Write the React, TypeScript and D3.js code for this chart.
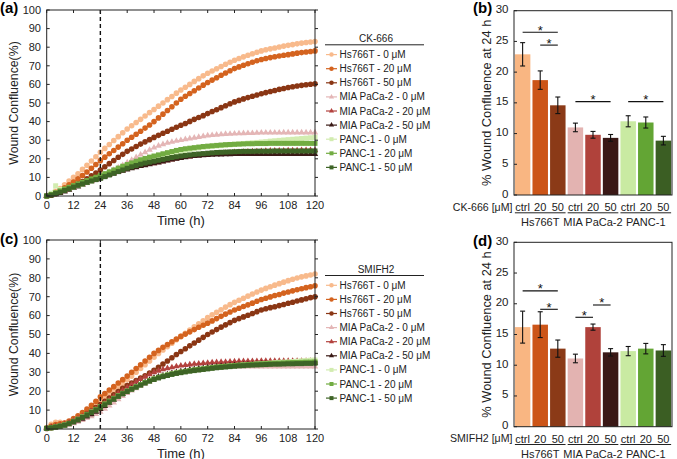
import React from 'react';
import * as d3 from 'd3';

// ---------- shared data ----------
const TIMES = d3.range(0, 121, 2);
const X_TICKS = [0, 12, 24, 36, 48, 60, 72, 84, 96, 108, 120];
const Y_TICKS_LINE = [0, 10, 20, 30, 40, 50, 60, 70, 80, 90, 100];
const SERIES_NAMES = [
  'Hs766T - 0 μM', 'Hs766T - 20 μM', 'Hs766T - 50 μM',
  'MIA PaCa-2 - 0 μM', 'MIA PaCa-2 - 20 μM', 'MIA PaCa-2 - 50 μM',
  'PANC-1 - 0 μM', 'PANC-1 - 20 μM', 'PANC-1 - 50 μM',
];
const SERIES_COLORS = ['#F8BA8C', '#D4631F', '#8A3614', '#E4B6B6', '#B3423E', '#3A1A16', '#D2ECB0', '#72AC42', '#3E6426'];
const SERIES_SHAPES = ['circle', 'circle', 'circle', 'tri', 'tri', 'tri', 'square', 'square', 'square'];

// ---------- panel (a) CK-666 ----------
const A_HS0 = [0, 0.8, 2.5, 4, 6, 8, 10, 12, 14.3, 16.5,
  18.8, 21.1, 23.5, 25.6, 27.7, 29.8, 31.9, 34, 36, 37.8,
  39.5, 41.2, 43, 44.8, 46.5, 48.3, 50, 51.8, 53.5, 55.3,
  57, 58.5, 60, 61.6, 63.1, 64.6, 66, 67.2, 68.4, 69.6,
  70.8, 71.9, 73, 73.9, 74.8, 75.7, 76.5, 77.3, 78, 78.6,
  79.1, 79.6, 80.1, 80.6, 81, 81.4, 81.8, 82.2, 82.5, 82.8,
  83];
const A_HS20 = [0, 0.6, 1.8, 3, 4.4, 6, 7.5, 9.2, 11, 12.9,
  14.9, 16.9, 19, 20.9, 22.7, 24.5, 26.3, 28.1, 30, 31.6,
  33.2, 34.8, 36.5, 38.2, 40, 42, 44, 46, 48, 50,
  52, 53.6, 55.1, 56.6, 58.1, 59.6, 61, 62.3, 63.6, 64.9,
  66.1, 67.3, 68.5, 69.4, 70.3, 71.1, 71.9, 72.7, 73.4, 73.9,
  74.4, 74.9, 75.3, 75.7, 76, 76.4, 76.8, 77.1, 77.4, 77.7,
  78];
const A_HS50 = [0, 0.4, 1.2, 2.2, 3.3, 4.1, 5, 6.4, 7.8, 9.3,
  10.8, 12.4, 14, 15.7, 17.4, 19.1, 20.8, 22.4, 24, 25.3,
  26.6, 27.9, 29.1, 30.3, 31.5, 32.6, 33.7, 34.8, 35.9, 37,
  38, 39, 40.1, 41.2, 42.2, 43.2, 44.3, 45.4, 46.4, 47.5,
  48.5, 49.6, 50.6, 51.4, 52.2, 52.9, 53.6, 54.3, 55, 55.6,
  56.2, 56.7, 57.3, 57.8, 58.3, 58.7, 59.1, 59.5, 59.8, 60.1,
  60.3];
const A_MIA0 = [0, 0.5, 1.2, 2, 2.8, 3.6, 4.5, 5.4, 6.3, 7.3,
  8.3, 9.4, 10.5, 11.6, 12.8, 14, 15.3, 16.6, 18, 19.4,
  20.8, 22.2, 23.5, 24.8, 26, 27, 27.8, 28.5, 29.1, 29.6,
  30, 30.5, 30.9, 31.3, 31.7, 32.1, 32.5, 32.7, 32.9, 33.1,
  33.3, 33.4, 33.5, 33.6, 33.7, 33.8, 33.8, 33.9, 34, 34,
  34, 34, 34, 34.1, 34.1, 34.1, 34.1, 34.1, 34.1, 34.1,
  34.1];
const A_MIA20 = [0, 0.5, 1.2, 2, 2.8, 3.7, 4.6, 5.5, 6.5, 7.4,
  8.3, 9.2, 10, 10.8, 11.6, 12.4, 13.1, 13.8, 14.5, 15.1,
  15.6, 16.1, 16.6, 17.1, 17.6, 18.1, 18.6, 19.1, 19.6, 20.1,
  20.5, 20.9, 21.2, 21.5, 21.8, 22.1, 22.3, 22.5, 22.7, 22.9,
  23.1, 23.3, 23.5, 23.6, 23.7, 23.8, 23.9, 24, 24.1, 24.2,
  24.3, 24.3, 24.4, 24.4, 24.5, 24.5, 24.5, 24.6, 24.6, 24.6,
  24.6];
const A_MIA50 = [0, 0.3, 0.9, 1.6, 2.4, 3.3, 4.2, 5.1, 6, 6.9,
  7.8, 8.7, 9.5, 10.4, 11.2, 12, 12.8, 13.5, 14.2, 14.8,
  15.4, 16, 16.5, 17, 17.5, 18, 18.5, 19, 19.5, 20,
  20.4, 20.8, 21.1, 21.4, 21.6, 21.8, 22, 22.1, 22.2, 22.3,
  22.4, 22.4, 22.5, 22.5, 22.5, 22.5, 22.5, 22.5, 22.5, 22.5,
  22.5, 22.5, 22.5, 22.5, 22.5, 22.5, 22.5, 22.5, 22.5, 22.5,
  22.5];
const A_P0 = [0, 1.5, 5.5, 3.5, 3.5, 4, 4.8, 5.6, 6.4, 7.2,
  8.1, 9.2, 10.5, 11.6, 12.6, 13.5, 14.4, 15.2, 16, 16.8,
  17.5, 18.2, 18.9, 19.5, 20.1, 20.8, 21.5, 22.2, 22.8, 23.4,
  24, 24.5, 25, 25.4, 25.8, 26.2, 26.5, 26.7, 26.9, 27.1,
  27.3, 27.5, 27.8, 28, 28.2, 28.4, 28.6, 28.8, 29, 29.2,
  29.5, 29.7, 29.9, 30.1, 30.3, 30.5, 30.7, 30.9, 31.1, 31.3,
  31.5];
const A_P20 = [0, 0.8, 1.8, 2.8, 3.8, 4.7, 5.6, 6.5, 7.4, 8.3,
  9.2, 10.1, 11, 12, 13, 14, 15, 16, 16.9, 17.8,
  18.7, 19.5, 20.2, 20.9, 21.5, 22.1, 22.7, 23.3, 23.9, 24.5,
  25, 25.4, 25.7, 26, 26.3, 26.6, 26.8, 27, 27.2, 27.4,
  27.6, 27.7, 27.8, 27.9, 28, 28.1, 28.1, 28.2, 28.2, 28.2,
  28.3, 28.3, 28.3, 28.3, 28.3, 28.3, 28.3, 28.3, 28.3, 28.3,
  28.3];
const A_P50 = [0, 0.5, 1.3, 2.1, 3, 3.9, 4.8, 5.7, 6.5, 7.3,
  8.1, 8.8, 9.5, 10.4, 11.3, 12.2, 13.1, 14, 14.9, 15.7,
  16.4, 17.1, 17.7, 18.2, 18.7, 19.2, 19.7, 20.2, 20.7, 21.1,
  21.5, 21.8, 22.1, 22.4, 22.6, 22.8, 23, 23.2, 23.4, 23.5,
  23.6, 23.7, 23.8, 23.9, 24, 24, 24, 24.1, 24.1, 24.1,
  24.1, 24.2, 24.2, 24.2, 24.2, 24.2, 24.2, 24.2, 24.2, 24.2,
  24.2];

// ---------- panel (c) SMIFH2 ----------
const C_HS0 = [0.5, 2.5, 3.5, 3.5, 3.2, 3.5, 4.5, 5.6, 7, 8.6,
  10.5, 12.7, 15, 16.8, 18.6, 20.4, 22.3, 24.1, 26, 28,
  30, 32, 34, 36, 38, 40, 41.8, 43.6, 45.4, 47.2,
  49, 50.7, 52.4, 54.1, 55.7, 57.3, 59, 60.4, 61.8, 63.1,
  64.5, 65.8, 67, 68.1, 69.2, 70.3, 71.4, 72.5, 73.5, 74.4,
  75.3, 76.1, 76.9, 77.7, 78.5, 79.2, 79.9, 80.5, 81, 81.5,
  82];
const C_HS20 = [0.5, 1.5, 2.3, 2.8, 3.2, 4.2, 5.5, 7, 8.7, 10.5,
  12.5, 14.7, 17, 18.8, 20.6, 22.4, 24.3, 26.1, 28, 30,
  32, 34, 36, 38, 40, 41.6, 43.2, 44.7, 46.2, 47.6,
  49, 50.2, 51.4, 52.6, 53.8, 54.9, 56, 57.2, 58.4, 59.6,
  60.8, 61.9, 63, 63.9, 64.8, 65.7, 66.6, 67.6, 68.5, 69.2,
  69.9, 70.6, 71.2, 71.9, 72.5, 73.1, 73.7, 74.2, 74.8, 75.3,
  75.8];
const C_HS50 = [0.3, 0.6, 1.1, 1.6, 2.2, 3, 4, 5.2, 6.6, 8.1,
  9.6, 11.3, 13, 14.7, 16.4, 18.1, 19.8, 21.5, 23, 24.3,
  25.6, 26.9, 28.2, 29.6, 31, 32.7, 34.4, 36, 37.7, 39.4,
  41, 42.5, 44, 45.5, 47, 48.5, 50, 51.3, 52.6, 53.9,
  55.1, 56.3, 57.5, 58.4, 59.3, 60.2, 61.1, 62.1, 63, 63.6,
  64.2, 64.7, 65.3, 65.9, 66.5, 67.1, 67.7, 68.3, 68.9, 69.5,
  70];
const C_MIA0 = [0.3, 0.5, 0.8, 1.2, 1.6, 2.2, 3, 3.8, 4.7, 5.7,
  6.7, 7.8, 9, 10.6, 12.3, 14, 15.7, 17.4, 19, 20.3,
  21.5, 22.7, 23.9, 25, 26, 26.9, 27.8, 28.6, 29.3, 29.9,
  30.5, 30.9, 31.3, 31.7, 32, 32.3, 32.5, 32.6, 32.7, 32.8,
  32.9, 33, 33, 33, 33, 33, 33, 33, 33, 33,
  33, 33, 33, 33, 33, 33, 33, 33, 33, 33,
  33];
const C_MIA20 = [0.5, 1, 1.5, 2, 2.6, 3.4, 4.5, 5.6, 6.8, 8,
  9.3, 10.6, 12, 13.7, 15.4, 17.1, 18.8, 20.4, 22, 23.5,
  25, 26.4, 27.7, 28.9, 30, 30.8, 31.5, 32.1, 32.6, 33.1,
  33.5, 33.8, 34.1, 34.4, 34.6, 34.8, 35, 35.2, 35.3, 35.4,
  35.5, 35.6, 35.7, 35.8, 35.8, 35.9, 35.9, 35.9, 36, 36,
  36, 36, 36, 36, 36, 36, 36, 36, 36, 36,
  36];
const C_MIA50 = [0.3, 0.6, 1, 1.4, 1.9, 2.6, 3.5, 4.4, 5.4, 6.5,
  7.7, 9.1, 10.5, 12.1, 13.8, 15.4, 17, 18.5, 20, 21.3,
  22.5, 23.6, 24.7, 25.9, 27, 27.7, 28.3, 28.9, 29.5, 30,
  30.5, 30.9, 31.3, 31.6, 31.9, 32.2, 32.5, 32.8, 33, 33.2,
  33.4, 33.6, 33.8, 33.9, 34, 34.1, 34.2, 34.4, 34.5, 34.5,
  34.6, 34.6, 34.7, 34.7, 34.8, 34.8, 34.9, 34.9, 35, 35,
  35];
const C_P0 = [0.3, 0.6, 1, 1.5, 2.1, 2.9, 4, 5.1, 6.3, 7.6,
  8.9, 10.2, 11.5, 13, 14.5, 16, 17.5, 18.8, 20, 21.2,
  22.3, 23.4, 24.5, 25.5, 26.5, 27.3, 28, 28.6, 29.1, 29.6,
  30, 30.4, 30.8, 31.1, 31.4, 31.7, 32, 32.3, 32.6, 32.8,
  33.1, 33.3, 33.5, 33.7, 33.9, 34.1, 34.2, 34.4, 34.5, 34.7,
  34.9, 35.1, 35.3, 35.4, 35.5, 35.7, 35.9, 36.1, 36.2, 36.4,
  36.5];
const C_P20 = [0.4, 0.7, 1.1, 1.6, 2.2, 3, 4.1, 5.2, 6.4, 7.7,
  9, 10.4, 11.8, 13.3, 14.8, 16.2, 17.6, 18.9, 20.1, 21.3,
  22.4, 23.5, 24.6, 25.6, 26.5, 27.3, 28, 28.6, 29.2, 29.7,
  30.1, 30.5, 30.9, 31.3, 31.6, 31.9, 32.2, 32.5, 32.8, 33,
  33.2, 33.4, 33.6, 33.8, 33.9, 34.1, 34.2, 34.4, 34.5, 34.6,
  34.7, 34.8, 34.9, 35, 35.1, 35.2, 35.2, 35.3, 35.4, 35.4,
  35.5];
const C_P50 = [0.3, 0.6, 1, 1.5, 2, 2.8, 3.8, 4.9, 6.1, 7.4,
  8.7, 10, 11.3, 12.8, 14.3, 15.8, 17.3, 18.6, 19.8, 21,
  22.1, 23.2, 24.3, 25.3, 26.2, 27, 27.7, 28.3, 28.9, 29.4,
  29.8, 30.2, 30.6, 30.9, 31.2, 31.5, 31.8, 32.1, 32.4, 32.6,
  32.8, 33, 33.2, 33.4, 33.5, 33.7, 33.8, 33.9, 34, 34.1,
  34.2, 34.3, 34.3, 34.4, 34.5, 34.5, 34.6, 34.6, 34.7, 34.7,
  34.8];

const PANEL_A = [A_HS0, A_HS20, A_HS50, A_MIA0, A_MIA20, A_MIA50, A_P0, A_P20, A_P50];
const PANEL_C = [C_HS0, C_HS20, C_HS50, C_MIA0, C_MIA20, C_MIA50, C_P0, C_P20, C_P50];

// ---------- bar panels ----------
const BAR_CATS = ['ctrl', '20', '50', 'ctrl', '20', '50', 'ctrl', '20', '50'];
const BAR_GROUPS = ['Hs766T', 'MIA PaCa-2', 'PANC-1'];
const BAR_COLORS = ['#F9B682', '#CC5518', '#8B3A17', '#E3B3B1', '#B0423B', '#3A1816', '#C9EAA2', '#63A534', '#3B5E23'];
const Y_TICKS_BAR = [0, 5, 10, 15, 20, 25, 30];
const B_MEANS = [22.9, 18.7, 14.6, 11.0, 9.8, 9.3, 12.0, 11.8, 8.85];
const B_ERRS = [1.9, 1.5, 1.35, 0.7, 0.55, 0.55, 0.9, 0.9, 0.7];
const B_SIG = [[0, 2, 26.5], [1, 2, 24.4], [3, 5, 15.2], [6, 8, 15.2]];
const D_MEANS = [16.2, 16.6, 12.7, 11.1, 16.2, 12.1, 12.3, 12.7, 12.4];
const D_ERRS = [2.6, 2.1, 1.4, 0.7, 0.5, 0.6, 0.75, 0.85, 0.95];
const D_SIG = [[0, 2, 22.1], [1, 2, 19.1], [3, 4, 17.8], [4, 5, 19.8]];

const FONT = 'Liberation Sans, Arial, sans-serif';

function Marker({ shape, x, y, color, k = 1 }: any) {
  if (shape === 'circle') return <circle cx={x} cy={y} r={2.8 * k} fill={color} />;
  if (shape === 'square') return <rect x={x - 2.5 * k} y={y - 2.5 * k} width={5 * k} height={5 * k} fill={color} />;
  const p = d3.symbol().type(d3.symbolTriangle).size(18 * k * k)() as string;
  return <path d={p} transform={`translate(${x},${y})`} fill={color} />;
}

function LinePanel({ data, yTop, yBottom, letter, letterY, title, titleY }: any) {
  const x = d3.scaleLinear().domain([0, 120]).range([46.7, 315]);
  const y = d3.scaleLinear().domain([0, 100]).range([yBottom, yTop]);
  const line = d3.line<number>().x((_, i) => x(TIMES[i])).y((d) => y(d));
  return (
    <g fontFamily={FONT}>
      <text x={0} y={letterY} fontSize={15} fontWeight="bold">{letter}</text>
      {data.map((s: number[], si: number) => (
        <g key={si}>
          <path d={line(s) as string} fill="none" stroke={SERIES_COLORS[si]} strokeWidth={1} />
          {s.map((v, i) => (
            <Marker key={i} shape={SERIES_SHAPES[si]} x={x(TIMES[i])} y={y(v)} color={SERIES_COLORS[si]} />
          ))}
        </g>
      ))}
      <line x1={x(24)} x2={x(24)} y1={y(0)} y2={y(100)} stroke="#111" strokeWidth={1.4} strokeDasharray="4,3" />
      <rect x={x(0)} y={y(100)} width={x(120) - x(0)} height={y(0) - y(100)} fill="none" stroke="#222" strokeWidth={1} />
      {X_TICKS.map((t) => (
        <g key={'x' + t}>
          <line x1={x(t)} x2={x(t)} y1={y(0)} y2={y(0) - 3} stroke="#222" />
          <line x1={x(t)} x2={x(t)} y1={y(100)} y2={y(100) + 3} stroke="#222" />
          <text x={x(t)} y={y(0) + 12.5} fontSize={11} textAnchor="middle" fill="#222">{t}</text>
        </g>
      ))}
      {Y_TICKS_LINE.map((t) => (
        <g key={'y' + t}>
          <line x1={x(0)} x2={x(0) + 3} y1={y(t)} y2={y(t)} stroke="#222" />
          <line x1={x(120)} x2={x(120) + 3} y1={y(t)} y2={y(t)} stroke="#222" />
          <text x={41} y={y(t)} dy="0.35em" fontSize={11} textAnchor="end" fill="#222">{t}</text>
        </g>
      ))}
      <text x={(x(0) + x(120)) / 2} y={y(0) + 28.5} fontSize={13} textAnchor="middle" fill="#222">Time (h)</text>
      <text transform={`translate(13.5,${(y(0) + y(100)) / 2}) rotate(-90)`} dy="0.35em" fontSize={12.3} textAnchor="middle" fill="#222">Wound Confluence(%)</text>
      <text x={376} y={titleY} dy="0.35em" fontSize={10} textAnchor="middle" fill="#222">{title}</text>
      <line x1={325} x2={424} y1={titleY + 6.5} y2={titleY + 6.5} stroke="#222" strokeWidth={1} />
      {SERIES_NAMES.map((n, i) => {
        const ly = titleY + 16.3 + i * 14.1;
        return (
          <g key={n}>
            <line x1={326} x2={337} y1={ly} y2={ly} stroke={SERIES_COLORS[i]} strokeWidth={1.2} />
            <Marker shape={SERIES_SHAPES[i]} x={331.5} y={ly} color={SERIES_COLORS[i]} k={0.8} />
            <text x={339.5} y={ly} dy="0.35em" fontSize={10} fill="#222">{n}</text>
          </g>
        );
      })}
    </g>
  );
}

function BarPanel({ means, errs, sig, yTop, yBottom, letter, letterY, unitLabel }: any) {
  const x = d3.scaleBand<number>().domain(d3.range(9)).range([514, 672]).paddingInner(0.12).paddingOuter(0.05);
  const y = d3.scaleLinear().domain([0, 30]).range([yBottom, yTop]);
  const bw = x.bandwidth();
  const cx = (i: number) => (x(i) as number) + bw / 2;
  const catY = yBottom + 12;
  const lineY = yBottom + 17.8;
  const groupY = yBottom + 27.5;
  return (
    <g fontFamily={FONT}>
      <text x={473} y={letterY} fontSize={15} fontWeight="bold">{letter}</text>
      {means.map((m: number, i: number) => (
        <rect key={i} x={x(i)} y={y(m)} width={bw} height={y(0) - y(m)} fill={BAR_COLORS[i]} />
      ))}
      {means.map((m: number, i: number) => (
        <g key={'e' + i} stroke="#111" strokeWidth={1.1}>
          <line x1={cx(i)} x2={cx(i)} y1={y(m + errs[i])} y2={y(m - errs[i])} />
          <line x1={cx(i) - 2.5} x2={cx(i) + 2.5} y1={y(m + errs[i])} y2={y(m + errs[i])} />
          <line x1={cx(i) - 2.5} x2={cx(i) + 2.5} y1={y(m - errs[i])} y2={y(m - errs[i])} />
        </g>
      ))}
      {sig.map(([a, b, v]: number[], k: number) => (
        <g key={'s' + k}>
          <line x1={cx(a)} x2={cx(b)} y1={y(v)} y2={y(v)} stroke="#111" strokeWidth={1.1} />
          <text x={(cx(a) + cx(b)) / 2} y={y(v) + 2.5} fontSize={13} textAnchor="middle" fill="#111">*</text>
        </g>
      ))}
      <rect x={514} y={y(30)} width={158} height={y(0) - y(30)} fill="none" stroke="#222" strokeWidth={1} />
      {Y_TICKS_BAR.map((t) => (
        <g key={t}>
          <line x1={514} x2={517} y1={y(t)} y2={y(t)} stroke="#222" />
          <text x={508.5} y={y(t) - 1.5} dy="0.35em" fontSize={11.5} textAnchor="end" fill="#222">{t}</text>
        </g>
      ))}
      <text transform={`translate(486.5,${(y(0) + y(30)) / 2}) rotate(-90)`} dy="0.35em" fontSize={12.8} textAnchor="middle" fill="#222">% Wound Confluence at 24 h</text>
      <text x={512.5} y={catY} dy="0.35em" fontSize={10.6} textAnchor="end" fill="#222">{unitLabel}</text>
      {BAR_CATS.map((c, i) => (
        <text key={'c' + i} x={cx(i)} y={catY} dy="0.35em" fontSize={11} textAnchor="middle" fill="#222">{c}</text>
      ))}
      {BAR_GROUPS.map((g, gi) => (
        <g key={g}>
          <line x1={(x(gi * 3) as number)} x2={(x(gi * 3 + 2) as number) + bw} y1={lineY} y2={lineY} stroke="#222" strokeWidth={1} />
          <text x={cx(gi * 3 + 1)} y={groupY} dy="0.35em" fontSize={11} textAnchor="middle" fill="#222">{g}</text>
        </g>
      ))}
    </g>
  );
}

export default function App() {
  return (
    <svg width={677} height={459} style={{ position: 'absolute', left: 0, top: 0, background: '#fff' }}>
      <rect width={677} height={459} fill="#fff" />
      <LinePanel data={PANEL_A} yTop={10} yBottom={196} letter="(a)" letterY={13} title="CK-666" titleY={38.3} />
      <LinePanel data={PANEL_C} yTop={240} yBottom={429} letter="(c)" letterY={244} title="SMIFH2" titleY={269} />
      <BarPanel means={B_MEANS} errs={B_ERRS} sig={B_SIG} yTop={10.7} yBottom={195} letter="(b)" letterY={13} unitLabel="CK-666 [μM]" />
      <BarPanel means={D_MEANS} errs={D_ERRS} sig={D_SIG} yTop={242.3} yBottom={426.7} letter="(d)" letterY={246} unitLabel="SMIFH2 [μM]" />
    </svg>
  );
}
